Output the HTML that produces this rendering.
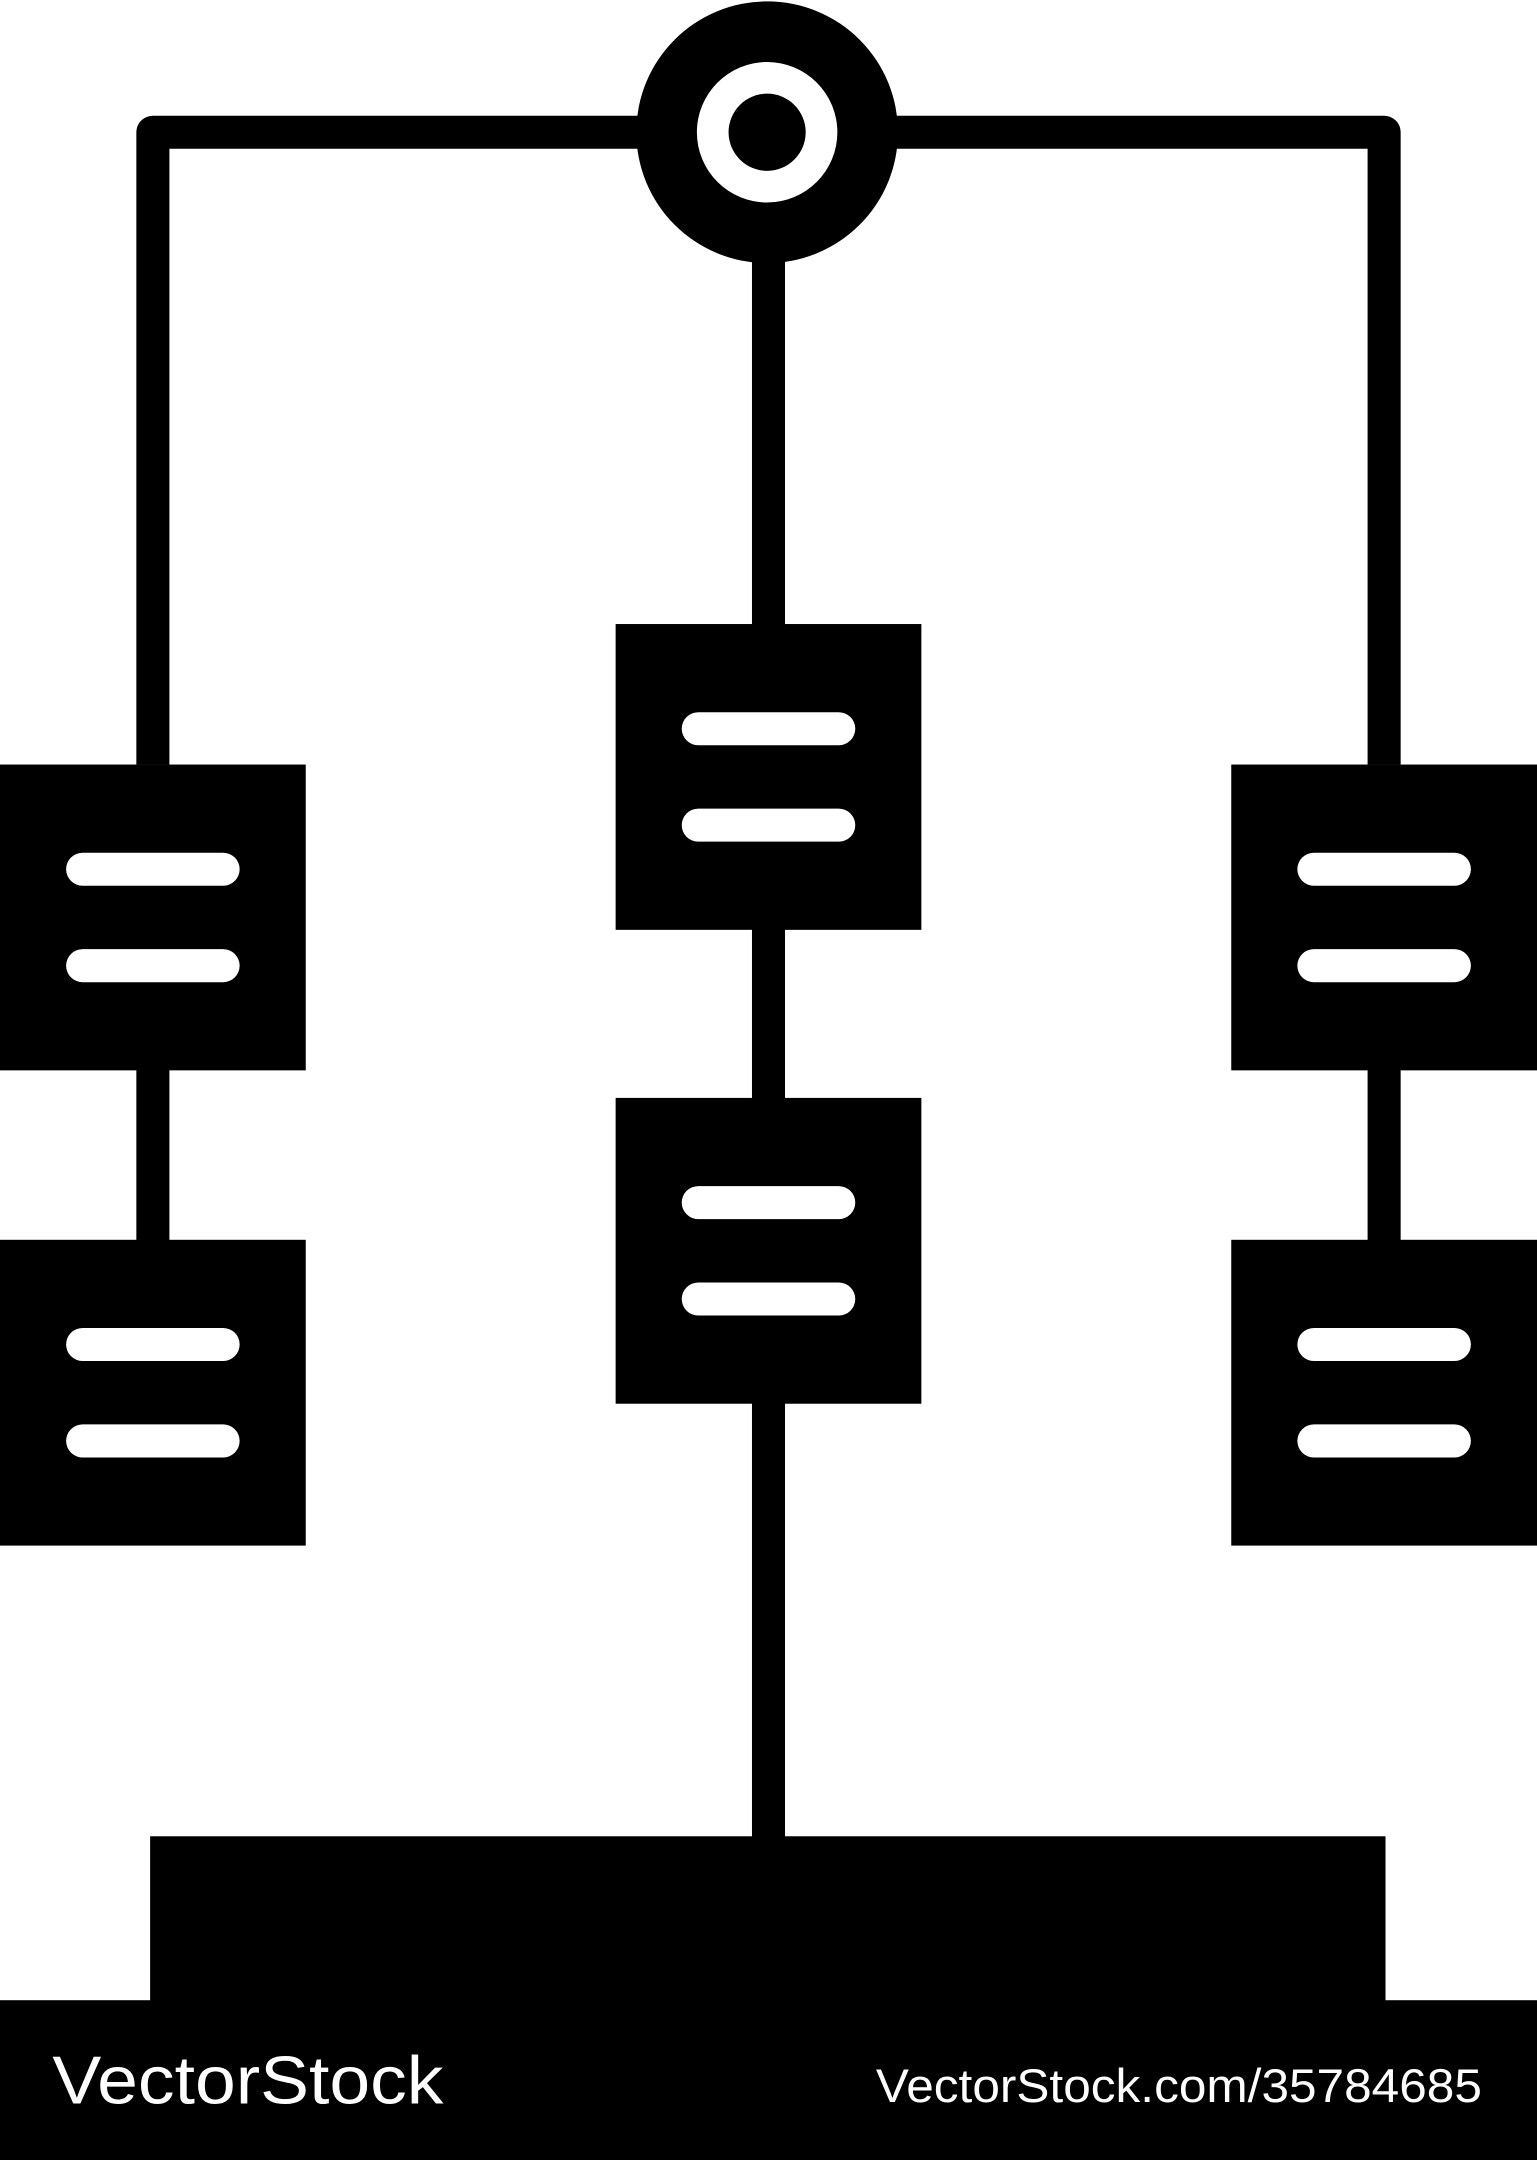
<!DOCTYPE html>
<html><head><meta charset="utf-8"><style>html,body{margin:0;padding:0;background:#fff}svg{display:block}</style></head>
<body>
<svg width="1537" height="2160" viewBox="0 0 1116 1568" preserveAspectRatio="none" xmlns="http://www.w3.org/2000/svg">
<rect width="1116" height="1568" fill="#fff"/>
<g fill="#000">
<path d="M111 84 H1005 A12 12 0 0 1 1017 96 V555 H993 V108 H123 V555 H99 V96 A12 12 0 0 1 111 84 Z"/>
<rect x="546" y="150" width="24" height="1190"/>
<rect x="99" y="770" width="24" height="140"/>
<rect x="993" y="770" width="24" height="140"/>
<circle cx="557" cy="96" r="95"/>
<rect x="0" y="555" width="222" height="222"/>
<rect x="0" y="900" width="222" height="222"/>
<rect x="447" y="453" width="222" height="222"/>
<rect x="447" y="797" width="222" height="222"/>
<rect x="894" y="555" width="222" height="222"/>
<rect x="894" y="900" width="222" height="222"/>
<rect x="109" y="1333" width="897" height="125"/>
<rect x="0" y="1452" width="1116" height="116"/>
</g>
<circle cx="557" cy="96" r="51" fill="#fff"/>
<circle cx="557" cy="96" r="28" fill="#000"/>
<g fill="#fff">
<rect x="48" y="619" width="126" height="24" rx="12"/><rect x="48" y="689" width="126" height="24" rx="12"/>
<rect x="48" y="964" width="126" height="24" rx="12"/><rect x="48" y="1034" width="126" height="24" rx="12"/>
<rect x="495" y="517" width="126" height="24" rx="12"/><rect x="495" y="587" width="126" height="24" rx="12"/>
<rect x="495" y="861" width="126" height="24" rx="12"/><rect x="495" y="931" width="126" height="24" rx="12"/>
<rect x="942" y="619" width="126" height="24" rx="12"/><rect x="942" y="689" width="126" height="24" rx="12"/>
<rect x="942" y="964" width="126" height="24" rx="12"/><rect x="942" y="1034" width="126" height="24" rx="12"/>
</g>
<text x="38" y="1527" fill="#fff" font-family="Liberation Sans, sans-serif" font-size="49" textLength="284" lengthAdjust="spacingAndGlyphs">VectorStock</text>
<text x="636" y="1526" fill="#fff" font-family="Liberation Sans, sans-serif" font-size="34" textLength="440" lengthAdjust="spacingAndGlyphs">VectorStock.com/35784685</text>
</svg>
</body></html>
